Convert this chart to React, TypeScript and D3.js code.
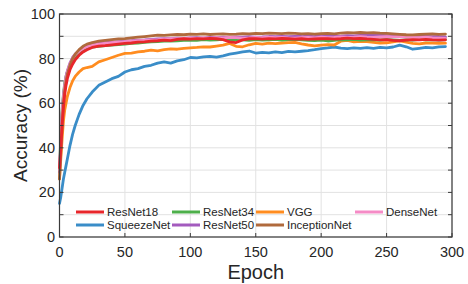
import React from "react";
import * as d3 from "d3";

const epochs = [0, 1, 2, 3, 4, 5, 6, 8, 10, 12, 15, 18, 21, 25,
  30, 35, 40, 45, 50, 55, 60, 65, 70, 75, 80, 85, 90, 95, 100, 105, 110, 115, 120, 125, 130, 135, 140, 145,
  150, 155, 160, 165, 170, 175, 180, 185, 190, 195, 200, 205, 210, 215, 220, 225, 230, 235, 240, 245,
  250, 255, 260, 265, 270, 275, 280, 285, 290, 295];

const resnet18 = [31, 40, 50, 58, 64, 68, 71, 75, 77.5, 79.5, 81.5, 83, 84, 85,
  85.6, 85.8, 86.2, 86.5, 86.8, 87, 87.4, 87.5, 87.8, 88, 88.3, 88.1, 88.6, 88.9, 88.7, 89, 88.8, 89.1, 88.9, 88.5, 87.5, 87.2, 88.4, 88.9,
  89, 88.7, 89, 88.8, 89.1, 88.9, 88.7, 88.9, 88.6, 88.8, 88.9, 89, 88.7, 88.9, 89.2, 89, 89.1, 88.8, 88.6, 88.4,
  88.5, 88.2, 88, 88.3, 88.5, 88.4, 88.6, 88.4, 88.3, 88.4];

const squeezenet = [15, 18, 22, 26, 29, 32, 35, 41, 46, 50, 55, 59, 62, 65,
  68, 69.5, 71, 72, 74, 75, 75.5, 76.5, 77, 78, 78.5, 78, 79, 79.5, 80.5, 80.3, 80.8, 81, 80.7, 81.2, 82, 82.5, 83, 83.4,
  82.5, 82.8, 82.6, 83, 82.7, 83.2, 83, 83.3, 83.6, 84, 84.5, 84.8, 85.2, 84.7, 84.5, 84.8, 84.6, 84.9, 84.6, 85,
  84.8, 85.2, 86, 85.3, 84.2, 84.6, 85, 84.8, 85.3, 85.4];

const resnet34 = [30, 45, 57, 64, 69, 72, 74, 77, 79, 80.5, 82, 83.3, 84.3, 85.2,
  85.5, 85.8, 86, 86.3, 86.5, 86.8, 87, 87.3, 87.5, 87.6, 87.8, 87.9, 88, 88.2, 88.3, 88.2, 88.5, 88.3, 88.4, 88.6, 88.3, 88.5, 88.4, 88.2,
  88.5, 88.3, 88.4, 88.6, 88.3, 88.5, 88.6, 88.4, 88.2, 88.1, 88.3, 87.9, 88.2, 88.5, 88.4, 88.6, 88.3, 88.4, 88.5, 88.3,
  88.6, 88.4, 88.2, 88.5, 88.3, 88.6, 88.4, 88.5, 88.3, 88.5];

const resnet50 = [29, 42, 55, 63, 68, 72, 74.5, 78, 80.5, 82, 83.5, 84.8, 85.7, 86.3,
  86.8, 87.1, 87.4, 87.6, 87.8, 88, 88.3, 88.4, 88.6, 88.8, 88.9, 89, 89.2, 89.1, 89.3, 89.4, 89.2, 89.5, 89.4, 89.6, 89.5, 89.7, 89.6, 89.8,
  89.6, 89.7, 89.9, 89.8, 90, 89.8, 90, 89.9, 90.1, 89.9, 90, 90.2, 90, 90.1, 90.3, 90.2, 90.4, 90.5, 90.7, 90.5,
  90.3, 90.1, 90.2, 90, 89.9, 90.1, 90, 89.8, 89.9, 89.7];

const vgg = [26, 35, 44, 52, 57, 60, 63, 67, 70, 72, 74, 75.5, 76, 76.5,
  78.5, 79.5, 80.5, 81.5, 82.3, 82.5, 83, 83.3, 83.8, 83.5, 84, 84.4, 84.2, 84.6, 84.8, 85, 85.3, 85.2, 85.6, 86, 86.8, 85.5, 85.3, 86.2,
  86.8, 86.5, 86.9, 86.7, 87, 87.2, 87.3, 86.6, 86.1, 85.7, 86, 86.3, 86.1, 87.8, 88.2, 87.5, 87.7, 87.6, 87.3, 87,
  87.1, 87.5, 87.9, 87.4, 86.8, 86.6, 87, 86.9, 86.8, 86.9];

const inceptionnet = [26, 38, 50, 60, 66, 70, 73, 77, 80, 82, 84, 85.5, 86.5, 87.2,
  87.8, 88.2, 88.5, 88.8, 89, 89.3, 89.6, 89.9, 90.2, 90.5, 90.4, 90.6, 90.8, 90.7, 91, 90.9, 91.1, 90.8, 91, 91.1, 90.9, 91, 91.2, 91.1,
  91.3, 91.2, 91.4, 91.3, 91.2, 91.4, 91.3, 91.1, 91.2, 91, 91.2, 91.3, 91.1, 91.4, 91.6, 91.5, 91.7, 91.5, 91.6, 91.4,
  91.3, 91.1, 90.9, 90.7, 90.6, 90.8, 91, 91.1, 90.9, 91];

const densenet = [30, 43, 55, 63, 68, 71.5, 74, 77.5, 80, 81.8, 83.3, 84.5, 85.3, 86,
  86.5, 86.8, 87.1, 87.4, 87.6, 87.8, 88, 88.2, 88.4, 88.5, 88.7, 88.9, 89, 89.1, 89.2, 89.1, 89.3, 89.2, 89.4, 89.3, 89.5, 89.4, 89.2, 89.3,
  89.5, 89.4, 89.6, 89.4, 89.5, 89.3, 89.2, 89.4, 89.5, 89.3, 89.6, 89.4, 89.5, 89.7, 89.5, 89.6, 89.8, 89.6, 89.5, 89.7,
  89.9, 89.7, 89.8, 89.6, 89.5, 89.4, 89.6, 89.3, 89.2, 89.1];

const seriesNames = ["ResNet18", "SqueezeNet", "ResNet34", "ResNet50", "VGG", "InceptionNet", "DenseNet"];
const seriesValues = [resnet18, squeezenet, resnet34, resnet50, vgg, inceptionnet, densenet];
const seriesColors = ["#E8262B", "#3A8DC8", "#4DAF4A", "#A35BBE", "#FF8C1F", "#B06A3C", "#F58BC6"];
const drawOrder = [1, 4, 2, 3, 6, 5, 0];

const xTicks = [0, 50, 100, 150, 200, 250, 300];
const yTicks = [0, 20, 40, 60, 80, 100];
const yMinorTicks = [0, 10, 20, 30, 40, 50, 60, 70, 80, 90, 100];

export default function App() {
  const W = 468, H = 284;
  const left = 59.5, right = 452, top = 14, bottom = 237;
  const x = d3.scaleLinear().domain([0, 300]).range([left, right]);
  const y = d3.scaleLinear().domain([0, 100]).range([bottom, top]);
  const line = d3.line<number>().x((_, i) => x(epochs[i])).y((d) => y(d));
  const font = "'Liberation Sans', Arial, Helvetica, sans-serif";
  const axisColor = "#3a3a3a";
  const gridColor = "#e2e2e2";

  // legend layout: 4 columns, 2 rows, column-major
  const legendCols = [76, 172, 256, 355];
  const legendRows = [212, 225];

  return (
    <svg width={W} height={H} style={{ position: "absolute", left: 0, top: 0, background: "#fff" }}>
      <rect x={0} y={0} width={W} height={H} fill="#fff" />
      {/* grid */}
      {xTicks.map((t) => (
        <line key={"gx" + t} x1={x(t)} x2={x(t)} y1={top} y2={bottom} stroke={gridColor} strokeWidth={1} />
      ))}
      {yMinorTicks.map((t) => (
        <line key={"gy" + t} x1={left} x2={right} y1={y(t)} y2={y(t)} stroke={gridColor} strokeWidth={1} />
      ))}
      {/* series */}
      {drawOrder.map((i) => (
        <path key={seriesNames[i]} d={line(seriesValues[i]) || ""} fill="none" stroke={seriesColors[i]}
          strokeWidth={2.8} strokeLinejoin="round" strokeLinecap="round" />
      ))}
      {/* axes box */}
      <rect x={left} y={top} width={right - left} height={bottom - top} fill="none" stroke={axisColor} strokeWidth={1.2} />
      {/* ticks */}
      {xTicks.map((t) => (
        <g key={"tx" + t}>
          <line x1={x(t)} x2={x(t)} y1={bottom} y2={bottom - 4} stroke={axisColor} />
          <line x1={x(t)} x2={x(t)} y1={top} y2={top + 4} stroke={axisColor} />
          <text x={x(t)} y={257} textAnchor="middle" fontFamily={font} fontSize={14.5} fill="#262626">{t}</text>
        </g>
      ))}
      {yMinorTicks.map((t) => (
        <g key={"ty" + t}>
          <line x1={left} x2={left + 4} y1={y(t)} y2={y(t)} stroke={axisColor} />
          <line x1={right} x2={right - 4} y1={y(t)} y2={y(t)} stroke={axisColor} />
        </g>
      ))}
      {yTicks.map((t) => (
        <text key={"ly" + t} x={55} y={y(t) + 5} textAnchor="end" fontFamily={font} fontSize={14.5} fill="#262626">{t}</text>
      ))}
      {/* axis labels */}
      <text x={(left + right) / 2} y={278.5} textAnchor="middle" fontFamily={font} fontSize={20} fill="#262626">Epoch</text>
      <text transform={`translate(27,${(top + bottom) / 2}) rotate(-90)`} textAnchor="middle" fontFamily={font} fontSize={19} fill="#262626">Accuracy (%)</text>
      {/* legend */}
      {seriesNames.map((name, i) => {
        const col = Math.floor(i / 2);
        const row = i % 2;
        const lx = legendCols[col];
        const ly = legendRows[row];
        return (
          <g key={"lg" + name}>
            <line x1={lx} x2={lx + 28} y1={ly} y2={ly} stroke={seriesColors[i]} strokeWidth={3} />
            <text x={lx + 31} y={ly + 4} fontFamily={font} fontSize={11.5} fill="#262626">{name}</text>
          </g>
        );
      })}
    </svg>
  );
}
